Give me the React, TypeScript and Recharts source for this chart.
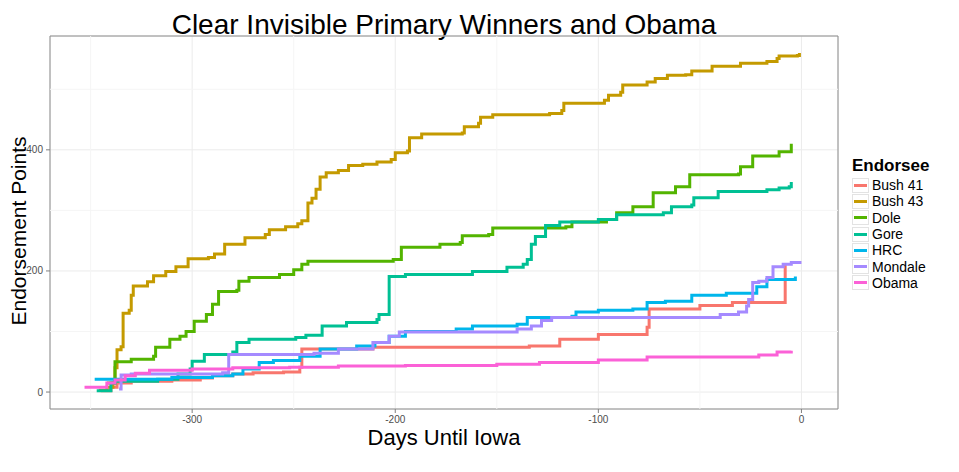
import React from 'react';
import { LineChart, Line, XAxis, YAxis, CartesianGrid, ReferenceLine, ReferenceArea } from 'recharts';

// [days until Iowa, endorsement points]
const bush41: [number, number][] = [
  [-345, 2], [-340, 8], [-337, 15], [-330, 18], [-310, 20], [-296, 23], [-290, 27], [-280, 30],
  [-270, 32], [-255, 33], [-247, 41], [-246, 71], [-211, 74], [-154, 74], [-134, 76], [-119, 87],
  [-100, 95], [-76, 107], [-75, 137], [-50, 143], [-34, 148], [-9, 148], [-8, 211],
];

const bush43: [number, number][] = [
  [-346, 3], [-342, 8], [-339, 15], [-338, 40], [-337, 70], [-335, 75], [-334, 130], [-331, 135],
  [-330, 160], [-329, 175], [-322, 182], [-319, 192], [-313, 199], [-308, 207], [-302, 220],
  [-292, 222], [-289, 228], [-284, 244], [-274, 255], [-264, 260], [-262, 268], [-254, 273],
  [-248, 278], [-246, 283], [-243, 312], [-241, 320], [-239, 335], [-237, 355], [-234, 362],
  [-228, 366], [-223, 374], [-216, 376], [-209, 380], [-202, 384], [-200, 395], [-194, 398],
  [-193, 420], [-187, 426], [-167, 428], [-166, 438], [-159, 444], [-158, 454], [-152, 458],
  [-124, 460], [-118, 465], [-117, 477], [-97, 482], [-95, 490], [-89, 495], [-88, 507],
  [-76, 512], [-72, 518], [-66, 523], [-57, 524], [-54, 530], [-44, 538], [-30, 543],
  [-17, 546], [-12, 551], [-11, 555], [-2, 556], [-1, 560],
];

const dole: [number, number][] = [
  [-342, 15], [-338, 50], [-330, 54], [-319, 59], [-318, 74], [-311, 87], [-306, 92], [-303, 100],
  [-299, 117], [-293, 128], [-290, 145], [-287, 166], [-278, 168], [-277, 183], [-272, 189],
  [-257, 194], [-250, 202], [-246, 211], [-243, 216], [-201, 219], [-197, 239], [-178, 244],
  [-168, 247], [-167, 258], [-154, 260], [-152, 271], [-116, 273], [-113, 281], [-96, 285],
  [-91, 296], [-83, 306], [-73, 329], [-62, 339], [-55, 359], [-31, 360], [-30, 372],
  [-24, 390], [-11, 397], [-5, 410],
];

const gore: [number, number][] = [
  [-347, 2], [-340, 15], [-338, 18], [-317, 21], [-307, 30], [-301, 38], [-300, 51], [-294, 62],
  [-280, 66], [-278, 82], [-272, 87], [-249, 90], [-244, 94], [-236, 109], [-224, 115],
  [-209, 120], [-208, 128], [-204, 128], [-203, 191], [-195, 194], [-162, 199], [-145, 206],
  [-137, 211], [-135, 219], [-133, 244], [-131, 257], [-126, 275], [-119, 281], [-100, 285],
  [-91, 293], [-68, 296], [-64, 306], [-54, 309], [-53, 321], [-41, 331], [-17, 334],
  [-11, 337], [-6, 339], [-5, 347],
];

const hrc: [number, number][] = [
  [-348, 21], [-320, 21], [-310, 24], [-290, 27], [-280, 30], [-275, 38], [-267, 49], [-260, 52],
  [-247, 59], [-237, 71], [-219, 76], [-210, 82], [-203, 92], [-195, 100], [-170, 104],
  [-162, 109], [-140, 112], [-135, 123], [-113, 125], [-111, 132], [-100, 135], [-83, 137],
  [-76, 148], [-67, 150], [-54, 160], [-37, 163], [-22, 174], [-17, 186], [-9, 186], [-3, 191],
];

const mondale: [number, number][] = [
  [-336, 5], [-335, 28], [-330, 30], [-285, 32], [-282, 62], [-240, 64], [-228, 71], [-211, 82],
  [-203, 92], [-198, 99], [-149, 99], [-140, 104], [-133, 109], [-128, 118], [-123, 123],
  [-47, 123], [-40, 128], [-31, 132], [-27, 142], [-26, 153], [-24, 181], [-21, 183],
  [-17, 189], [-14, 207], [-9, 211], [-5, 214], [0, 214],
];

const obama: [number, number][] = [
  [-353, 8], [-344, 8], [-342, 15], [-338, 20], [-333, 27], [-328, 31], [-321, 36], [-300, 38],
  [-280, 40], [-252, 41], [-228, 43], [-195, 44], [-150, 46], [-129, 49], [-100, 53],
  [-76, 58], [-26, 58], [-21, 61], [-12, 66], [-5, 68],
];

const names = ['Bush 41', 'Bush 43', 'Dole', 'Gore', 'HRC', 'Mondale', 'Obama'];
const colors = ['#F8766D', '#C49A00', '#53B400', '#00C094', '#00B6EB', '#A58AFF', '#FB61D7'];
const seriesPoints = [bush41, bush43, dole, gore, hrc, mondale, obama];

const xTicks = [-300, -200, -100, 0];
const yTicks = [0, 200, 400];
const xMinor = [-350, -250, -150, -50];
const yMinor = [100, 300, 500];

const X_DOMAIN: [number, number] = [-370, 18];
const Y_DOMAIN: [number, number] = [-28, 588];

const font = '"Liberation Sans", Arial, Helvetica, sans-serif';

export default function App() {
  return (
    <div style={{ position: 'relative', width: 951, height: 464, fontFamily: font, background: '#fff' }}>
      <div style={{
        position: 'absolute', left: 0, width: 872, top: 1, textAlign: 'center',
        fontSize: 28, color: '#000', lineHeight: '32px',
      }}>
        Clear Invisible Primary Winners and Obama
      </div>

      <div style={{
        position: 'absolute', left: 11, top: 223, width: 0, height: 0,
      }}>
        <div style={{
          position: 'absolute', transform: 'translate(-50%, -50%) rotate(-90deg)',
          whiteSpace: 'nowrap', fontSize: 21, color: '#000', lineHeight: '24px',
        }}>
          Endorsement Points
        </div>
      </div>

      <div style={{
        position: 'absolute', left: 42, width: 788, top: 417, textAlign: 'center',
        fontSize: 22, color: '#000', lineHeight: '26px',
      }}>
        Days Until Iowa
      </div>

      <LineChart
        width={951}
        height={464}
        margin={{ top: 28, right: 121, bottom: 33, left: 0 }}
      >
        <CartesianGrid stroke="#EBEBEB" strokeWidth={1} />
        {xMinor.map((x) => (
          <ReferenceLine key={'vx' + x} x={x} stroke="#F5F5F5" strokeWidth={1} />
        ))}
        {yMinor.map((y) => (
          <ReferenceLine key={'hy' + y} y={y} stroke="#F5F5F5" strokeWidth={1} />
        ))}
        <XAxis
          type="number"
          dataKey="day"
          domain={X_DOMAIN}
          ticks={xTicks}
          allowDataOverflow
          height={30}
          axisLine={false}
          tickSize={4}
          tickMargin={3}
          tickLine={{ stroke: '#7F7F7F' }}
          tick={{ fontSize: 10, fill: '#4D4D4D', fontFamily: font }}
        />
        <YAxis
          type="number"
          dataKey="pts"
          domain={Y_DOMAIN}
          ticks={yTicks}
          allowDataOverflow
          width={42}
          axisLine={false}
          tickSize={4}
          tickMargin={3}
          tickLine={{ stroke: '#7F7F7F' }}
          tick={{ fontSize: 10, fill: '#4D4D4D', fontFamily: font }}
        />
        {seriesPoints.map((pts, i) => (
          <Line
            key={names[i]}
            name={names[i]}
            data={pts.map(([day, p]) => ({ day, pts: p }))}
            dataKey="pts"
            type="stepAfter"
            stroke={colors[i]}
            strokeWidth={3}
            dot={false}
            activeDot={false}
            isAnimationActive={false}
          />
        ))}
        <ReferenceArea
          x1={X_DOMAIN[0]}
          x2={X_DOMAIN[1]}
          y1={Y_DOMAIN[0]}
          y2={Y_DOMAIN[1]}
          fill="none"
          fillOpacity={0}
          stroke="#8C8C8C"
          strokeWidth={1}
        />
      </LineChart>

      <div style={{ position: 'absolute', left: 844, top: 148, color: '#000' }}>
        <div style={{ fontSize: 17, fontWeight: 'bold', lineHeight: '20px', marginBottom: 1 }}>Endorsee</div>
        {names.map((n, i) => (
          <div key={n} style={{ display: 'flex', alignItems: 'center', height: 16.3 }}>
            <div style={{
              width: 17, height: 15, border: '1px solid #E3E3E3', boxSizing: 'border-box',
              display: 'flex', alignItems: 'center', justifyContent: 'center', marginRight: 3,
            }}>
              <div style={{ width: 13, height: 3, background: colors[i] }} />
            </div>
            <span style={{ fontSize: 14, lineHeight: '16px' }}>{n}</span>
          </div>
        ))}
      </div>
    </div>
  );
}
